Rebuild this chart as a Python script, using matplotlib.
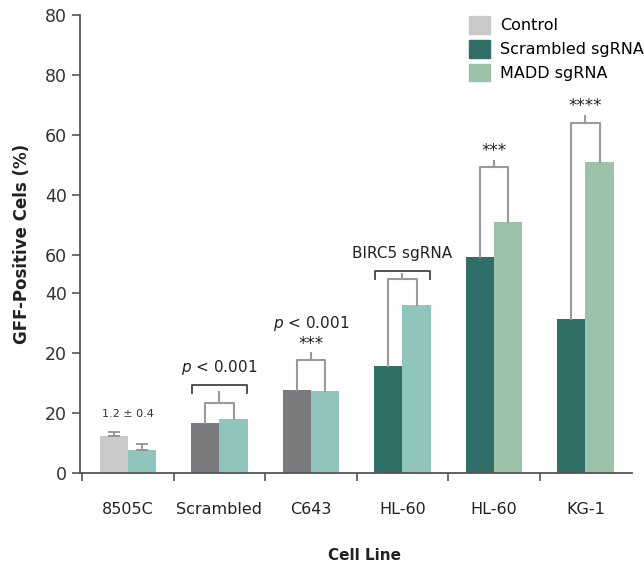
import numpy as np
import matplotlib
matplotlib.use('Agg')
import matplotlib.pyplot as plt
from matplotlib.patches import Patch

# data
cells = ['8505C', 'Scrambled', 'C643', 'HL-60', 'HL-60', 'KG-1']
first_vals = [12.3, 16.7, 27.7, 35.7, 72.0, 51.3]
second_vals = [7.7, 18.0, 27.3, 56.0, 83.7, 103.7]
first_err = [1.4, 0, 0, 0, 0, 0]
second_err = [2.0, 0, 0, 0, 0, 0]

# the y axis of the reference has odd, repeated labels
ytick_pos = [0, 20, 40, 60, 72.7, 92.7, 112.7, 132.7, 152.7]
ytick_lab = ['0', '20', '20', '40', '60', '40', '60', '80', '80']

# bracket heights: (group, connector, stem top)
brackets = [(1, 23.3, 27.0), (2, 37.7, 40.0), (3, 64.7, 66.3), (4, 102.0, 104.0), (5, 116.7, 119.0)]
# outer brackets with labels: (group, height)
outer = [(1, 29.3), (3, 67.3)]

c_ctrl = '#c9c9ca'
c_gray = '#7b7b7e'
c_teal = '#8fc5bd'
c_dark = '#2f6f67'
c_madd = '#9cc3a9'
first_cols = [c_ctrl, c_gray, c_gray, c_dark, c_dark, c_dark]
second_cols = [c_teal, c_teal, c_teal, c_teal, c_madd, c_madd]
line_c = '#9a9a9a'

fig = plt.figure(figsize=(6.44, 5.71), dpi=100)
ax = fig.add_axes([80/644, 98/571, 552/644, 458/571])

x = np.arange(len(cells))
w = 0.31
ax.bar(x - w/2, first_vals, w, color=first_cols, linewidth=0)
ax.bar(x + w/2, second_vals, w, color=second_cols, linewidth=0)
ax.errorbar(x[:1] - w/2, first_vals[:1], yerr=[[0], first_err[:1]], fmt='none',
            ecolor='#8a8a8a', capsize=4, elinewidth=1.2, capthick=1.2)
ax.errorbar(x[:1] + w/2, second_vals[:1], yerr=[[0], second_err[:1]], fmt='none',
            ecolor='#8a8a8a', capsize=4, elinewidth=1.2, capthick=1.2)

for g, h, s in brackets:
    xl, xr = g - w/2, g + w/2
    ax.plot([xl, xl, xr, xr], [first_vals[g], h, h, second_vals[g]], color=line_c, lw=1.5)
    ax.plot([g, g], [h, s], color=line_c, lw=1.5)

for g, h in outer:
    ax.plot([g - 0.3, g - 0.3, g + 0.3, g + 0.3], [h - 2.7, h, h, h - 2.7], color='#444444', lw=1.3)

ax.text(0, 19.7, '1.2 ± 0.4', ha='center', va='center', fontsize=8, color='#333333')
ax.text(1, 35.3, r'$p$ < 0.001', ha='center', va='center', fontsize=11, color='#222222')
ax.text(2, 49.7, r'$p$ < 0.001', ha='center', va='center', fontsize=11, color='#222222')
ax.text(2, 43.0, '***', ha='center', va='center', fontsize=12, color='#222222')
ax.text(3, 73.3, 'BIRC5 sgRNA', ha='center', va='center', fontsize=11, color='#222222')
ax.text(4, 107.5, '***', ha='center', va='center', fontsize=12, color='#222222')
ax.text(5, 122.5, '****', ha='center', va='center', fontsize=12, color='#222222')

ax.set_xlim(-0.525, 5.51)
ax.set_ylim(0, 152.7)
ax.set_yticks(ytick_pos)
ax.set_yticklabels(ytick_lab, fontsize=12.5, color='#333333')
ax.set_xticks(np.arange(-0.5, 5.0, 1.0))
ax.set_xticklabels([])
ax.set_xticks(x, minor=True)
ax.set_xticklabels(cells, minor=True, fontsize=11.5, color='#222222')
ax.tick_params(axis='x', which='minor', length=0, pad=21)
ax.tick_params(axis='x', which='major', length=6, width=1.2, color='#555555')
ax.tick_params(axis='y', length=6, width=1.2, color='#555555')
for sp in ['top', 'right']:
    ax.spines[sp].set_visible(False)
for sp in ['left', 'bottom']:
    ax.spines[sp].set_color('#555555')
    ax.spines[sp].set_linewidth(1.3)

ax.set_ylabel('GFF-Positive Cels (%)', fontsize=12, fontweight='bold', color='#222222', labelpad=10)
fig.text(365/644, 1 - 555/571, 'Cell Line', ha='center', va='center',
         fontsize=11, fontweight='bold', color='#222222')

handles = [Patch(color=c_ctrl, label='Control'),
           Patch(color=c_dark, label='Scrambled sgRNA'),
           Patch(color=c_madd, label='MADD sgRNA')]
fig.legend(handles=handles, loc='upper left', bbox_to_anchor=(455/644, 1 - 2/571), frameon=False,
           fontsize=11.5, handlelength=1.3, handleheight=1.3, handletextpad=0.6, labelspacing=0.4)

fig.savefig('out.png', dpi=100)
